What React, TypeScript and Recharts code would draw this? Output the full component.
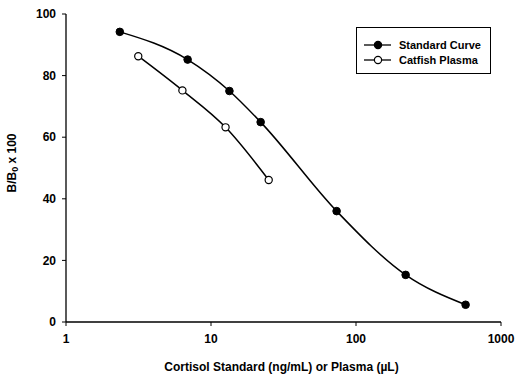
import { LineChart, Line, XAxis, YAxis } from "recharts";

const standardX = [2.35, 6.9, 13.4, 22, 73.5, 220, 570];
const standardY = [94.2, 85.2, 75, 64.9, 36, 15.3, 5.6];
const plasmaX = [3.15, 6.35, 12.6, 25];
const plasmaY = [86.3, 75.2, 63.2, 46.1];

const xTicks = [1, 10, 100, 1000];
const yTicks = [0, 20, 40, 60, 80, 100];

const seriesNames = ["Standard Curve", "Catfish Plasma"];

const standardData = standardX.map((x, i) => ({ x, y: standardY[i] }));
const plasmaData = plasmaX.map((x, i) => ({ x, y: plasmaY[i] }));

const FONT = "'Liberation Sans', Arial, sans-serif";
const tickStyle = { fill: "#000", fontSize: 12, fontWeight: 700, fontFamily: FONT };

function YLabel() {
  const cx = 12;
  const cy = 163;
  return (
    <text
      x={cx}
      y={cy}
      transform={`rotate(-90 ${cx} ${cy})`}
      textAnchor="middle"
      dominantBaseline="central"
      fontSize={12}
      fontWeight={700}
      fontFamily={FONT}
      fill="#000"
    >
      B/B
      <tspan fontSize={9} dy={3}>0</tspan>
      <tspan dy={-3}> x 100</tspan>
    </text>
  );
}

function XLabel({ viewBox }: any) {
  const cx = viewBox ? viewBox.x + viewBox.width / 2 : 283;
  return (
    <text
      x={cx - 2}
      y={371}
      textAnchor="middle"
      fontSize={12}
      fontWeight={700}
      fontFamily={FONT}
      fill="#000"
    >
      Cortisol Standard (ng/mL) or Plasma (µL)
    </text>
  );
}

// legend drawn as a plain box over the plot, so it takes no room from the axes
function LegendBox() {
  return (
    <div
      style={{
        position: "absolute",
        left: 356,
        top: 27,
        border: "1px solid #000",
        width: 135,
        height: 47,
        boxSizing: "border-box",
        padding: "9px 0 0 7px",
        fontFamily: FONT,
        fontSize: 11,
        fontWeight: 700,
        background: "#fff",
      }}
    >
      {seriesNames.map((name, i) => (
        <div key={name} style={{ display: "flex", alignItems: "center", height: 15 }}>
          <svg width={28} height={12} style={{ marginRight: 7 }}>
            <line x1={0} y1={6} x2={27} y2={6} stroke="#000" strokeWidth={1.3} />
            <circle cx={14} cy={6} r={3.6} fill={i === 0 ? "#000" : "#fff"} stroke="#000" strokeWidth={1.2} />
          </svg>
          <span>{name}</span>
        </div>
      ))}
    </div>
  );
}

export default function App() {
  return (
    <div style={{ position: "absolute", left: 0, top: 0, width: 516, height: 380, background: "#fff" }}>
      <LineChart width={516} height={380} margin={{ top: 14, right: 15, bottom: 0, left: 0 }}>
        <XAxis
          type="number"
          dataKey="x"
          scale="log"
          domain={[1, 1000]}
          ticks={xTicks}
          allowDataOverflow
          height={58}
          tickSize={4}
          tickMargin={8}
          tick={tickStyle}
          axisLine={{ stroke: "#000", strokeWidth: 1.3 }}
          tickLine={{ stroke: "#000" }}
          label={<XLabel />}
        />
        <YAxis
          type="number"
          dataKey="y"
          domain={[0, 100]}
          ticks={yTicks}
          width={66}
          tickSize={4}
          tickMargin={6}
          tick={tickStyle}
          axisLine={{ stroke: "#000", strokeWidth: 1.3 }}
          tickLine={{ stroke: "#000" }}
          label={<YLabel />}
        />
        <Line
          data={standardData}
          dataKey="y"
          name={seriesNames[0]}
          type="monotone"
          stroke="#000"
          strokeWidth={1.5}
          dot={{ r: 3.8, fill: "#000", stroke: "#000", strokeWidth: 1 }}
          isAnimationActive={false}
        />
        <Line
          data={plasmaData}
          dataKey="y"
          name={seriesNames[1]}
          type="monotone"
          stroke="#000"
          strokeWidth={1.5}
          dot={{ r: 3.6, fill: "#fff", stroke: "#000", strokeWidth: 1.2 }}
          isAnimationActive={false}
        />
      </LineChart>
      <LegendBox />
    </div>
  );
}
